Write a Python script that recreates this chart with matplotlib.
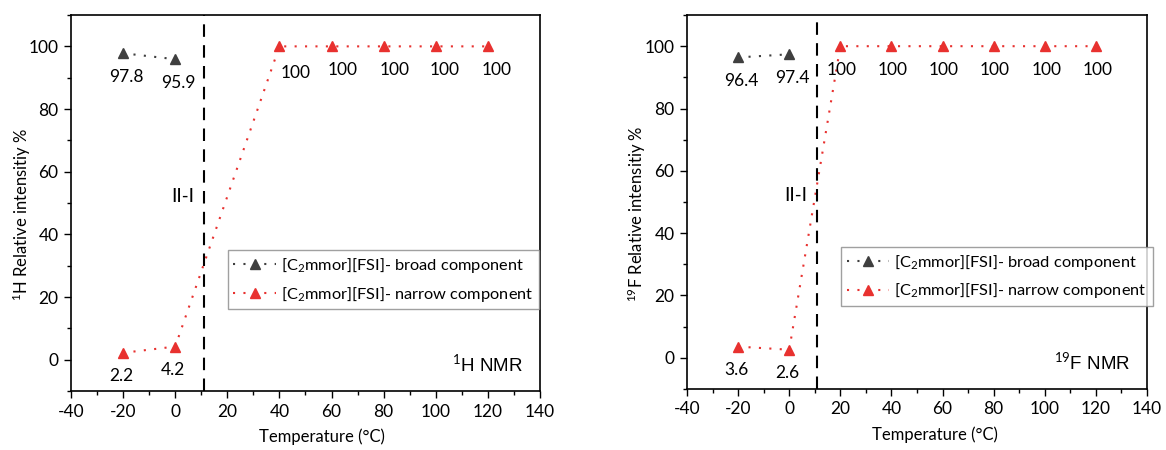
import matplotlib
matplotlib.use("Agg")
import matplotlib.pyplot as plt
from matplotlib.ticker import MultipleLocator

plt.rcParams['font.family'] = ['Lato', 'DejaVu Sans']
plt.rcParams['mathtext.fontset'] = 'custom'
plt.rcParams['mathtext.rm'] = 'Lato'
plt.rcParams['mathtext.it'] = 'Lato'
plt.rcParams['axes.unicode_minus'] = False

# Data
h_broad_x = [-20, 0]
h_broad_y = [97.8, 95.9]
h_narrow_x = [-20, 0, 40, 60, 80, 100, 120]
h_narrow_y = [2.2, 4.2, 100, 100, 100, 100, 100]
f_broad_x = [-20, 0]
f_broad_y = [96.4, 97.4]
f_narrow_x = [-20, 0, 20, 40, 60, 80, 100, 120]
f_narrow_y = [3.6, 2.6, 100, 100, 100, 100, 100, 100]
transition_T = 11
broad_label = "[C$_2$mmor][FSI]- broad component"
narrow_label = "[C$_2$mmor][FSI]- narrow component"

GREY = '#3f3f3f'
RED = '#e8312f'
DOT = (0, (1, 4))

fig = plt.figure(figsize=(11.66, 4.5), dpi=100)
ax1 = fig.add_axes([0.0609, 0.131, 0.4022, 0.8356])
ax2 = fig.add_axes([0.5892, 0.1356, 0.3945, 0.831])


def style(ax, xl):
    ax.set_xlim(-40, 140)
    ax.set_ylim(-10, 110)
    ax.xaxis.set_major_locator(MultipleLocator(20))
    ax.xaxis.set_minor_locator(MultipleLocator(10))
    ax.yaxis.set_major_locator(MultipleLocator(20))
    ax.yaxis.set_minor_locator(MultipleLocator(10))
    ax.tick_params(which='both', direction='out', top=False, right=False, labelsize=12.5)
    ax.tick_params(which='major', length=5, width=1, pad=4)
    ax.tick_params(which='minor', length=3, width=1)
    for s in ax.spines.values():
        s.set_linewidth(1.2)
    ax.set_xlabel('Temperature (°C)', fontsize=12)
    ax.xaxis.set_label_coords(xl, -0.1)


def panel(ax, bx, by, nx, ny, ylab, nmr, broad_offs, narrow_offs, ylab_x, xl):
    ax.plot(bx, by, linestyle=DOT, color=GREY, marker='^', markersize=7.5,
            markerfacecolor=GREY, markeredgecolor=GREY, lw=1.5, label=broad_label)
    ax.plot(nx, ny, linestyle=DOT, color=RED, marker='^', markersize=7.5,
            markerfacecolor=RED, markeredgecolor=RED, lw=1.5, label=narrow_label)
    ax.axvline(transition_T, color='black', linestyle=(0, (6, 4)), lw=1.5)
    for x, y, (dx, dy) in zip(bx, by, broad_offs):
        ax.annotate(f"{y:g}", (x, y), xytext=(dx, dy), textcoords='offset points',
                    ha='center', va='center', fontsize=12.5)
    for x, y, (dx, dy) in zip(nx, ny, narrow_offs):
        ax.annotate(f"{y:g}", (x, y), xytext=(dx, dy), textcoords='offset points',
                    ha='center', va='center', fontsize=12.5)
    ax.text(transition_T - 3.8, 52, 'II-I', ha='right', va='center', fontsize=13.5)
    ax.text(0.964, 0.07, nmr, transform=ax.transAxes, ha='right', va='center',
            fontsize=13.5, family=['Liberation Sans', 'DejaVu Sans'])
    ax.set_ylabel(ylab, fontsize=12)
    ax.yaxis.set_label_coords(ylab_x, 0.47)
    style(ax, xl)


panel(ax1, h_broad_x, h_broad_y, h_narrow_x, h_narrow_y,
      '$^{1}$H Relative intensitiy %', '$^{1}$H NMR',
      [(2, -17), (2, -17)],
      [(-1, -17), (-1.5, -17), (11.5, -19), (8, -17), (8, -17), (6.5, -17), (6.5, -17)],
      -0.08, 0.535)
panel(ax2, f_broad_x, f_broad_y, f_narrow_x, f_narrow_y,
      '$^{19}$F Relative intensitiy %', '$^{19}$F NMR',
      [(2, -17), (2, -17)],
      [(-1.5, -17), (-1.5, -17), (1, -17), (1, -17), (1, -17), (1, -17), (1, -17), (1, -17)],
      -0.085, 0.539)

for ax, anchor in ((ax1, (0.334, 0.375)), (ax2, (0.335, 0.380))):
    leg = ax.legend(loc='upper left', bbox_to_anchor=anchor,
                    fontsize=11.8, frameon=True, fancybox=False, edgecolor='#888888',
                    numpoints=1, handlelength=2.6, handletextpad=0.3,
                    borderpad=0.35, labelspacing=0.6, borderaxespad=0)
    leg.get_frame().set_linewidth(1.0)

fig.savefig('out.png', dpi=100)
